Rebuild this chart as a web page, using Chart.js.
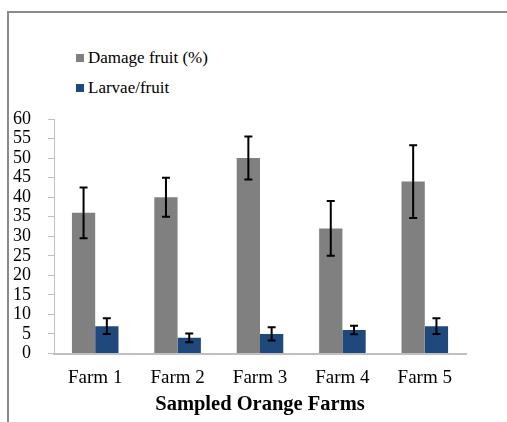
<!DOCTYPE html>
<html>
<head>
<meta charset="utf-8">
<script src="https://cdn.jsdelivr.net/npm/chart.js@4.4.0/dist/chart.umd.min.js"></script>
<style>
    html, body { margin: 0; padding: 0; background: #fff; }
    #wrap { position: relative; width: 507px; height: 422px; overflow: hidden; }
    #frame {
        position: absolute; left: 7px; top: 11px; width: 600px; height: 500px;
        border-top: 2px solid #8a8a8a; border-left: 2px solid #8a8a8a;
    }
    #legend { position: absolute; left: 76px; top: 43px; font-family: 'Liberation Serif', serif; font-size: 17px; color: #000; }
    .item { display: flex; align-items: center; height: 30px; }
    .box { width: 8px; height: 8px; margin-right: 4px; }
    canvas { position: absolute; left: 0; top: 0; }
</style>
</head>
<body>
<div id="wrap">
    <div id="frame"></div>
    <div id="legend"></div>
    <canvas id="chart" width="507" height="422"></canvas>
</div>
<script>
// chart data
const farms = ['Farm 1', 'Farm 2', 'Farm 3', 'Farm 4', 'Farm 5']
const damage = [36, 40, 50, 32, 44]
const damageErr = [6.5, 5, 5.5, 7, 9.3]
const larvae = [7, 4, 5, 6, 7]
const larvaeErr = [2, 1.1, 1.7, 1.1, 2]
const yTicks = [0, 5, 10, 15, 20, 25, 30, 35, 40, 45, 50, 55, 60]

const grey = '#808080'
const blue = '#1F497D'
const serif = "'Liberation Serif', 'Times New Roman', serif"

const datasets = [
    { label: 'Damage fruit (%)', data: damage, err: damageErr, backgroundColor: grey },
    { label: 'Larvae/fruit', data: larvae, err: larvaeErr, backgroundColor: blue }
]

// legend stacked top-left like the original
const legend = document.getElementById('legend')
datasets.forEach(ds => {
    const item = document.createElement('div')
    item.className = 'item'
    item.innerHTML = `<span class="box" style="background:${ds.backgroundColor}"></span><span>${ds.label}</span>`
    legend.appendChild(item)
})

// draws the standard deviation whiskers on each bar
const errorBars = {
    id: 'errorBars',
    afterDatasetsDraw(chart) {
        const ctx = chart.ctx
        const y = chart.scales.y
        ctx.save()
        ctx.strokeStyle = '#000'
        ctx.lineWidth = 2
        chart.data.datasets.forEach((ds, i) => {
            chart.getDatasetMeta(i).data.forEach((bar, j) => {
                const top = y.getPixelForValue(ds.data[j] + ds.err[j])
                const bottom = y.getPixelForValue(ds.data[j] - ds.err[j])
                ctx.beginPath()
                ctx.moveTo(bar.x, top)
                ctx.lineTo(bar.x, bottom)
                ctx.moveTo(bar.x - 4, top)
                ctx.lineTo(bar.x + 4, top)
                ctx.moveTo(bar.x - 4, bottom)
                ctx.lineTo(bar.x + 4, bottom)
                ctx.stroke()
            })
        })
        ctx.restore()
    }
}

new Chart(document.getElementById('chart'), {
    type: 'bar',
    data: { labels: farms, datasets: datasets },
    options: {
        responsive: false,
        animation: false,
        categoryPercentage: 0.565,
        barPercentage: 1,
        layout: { padding: { left: -4, right: 41, top: 119, bottom: 7 } },
        plugins: {
            legend: { display: false },
            tooltip: { enabled: false }
        },
        scales: {
            x: {
                grid: { display: false },
                border: { color: '#bfbfbf', width: 2 },
                ticks: { color: '#000', font: { family: serif, size: 19, lineHeight: 1 }, padding: 7 },
                title: {
                    display: true,
                    text: 'Sampled Orange Farms',
                    color: '#000',
                    font: { family: serif, size: 20.5, weight: 'bold', lineHeight: 1 },
                    padding: { top: 0, bottom: 0 }
                }
            },
            y: {
                min: 0,
                max: 60,
                afterBuildTicks: axis => { axis.ticks = yTicks.map(v => ({ value: v })) },
                grid: { drawOnChartArea: false, drawTicks: true, tickLength: 6, color: '#bfbfbf', lineWidth: 1 },
                border: { color: '#bfbfbf', width: 1 },
                ticks: { color: '#000', font: { family: serif, size: 18, lineHeight: 1 }, padding: 17, autoSkip: false }
            }
        }
    },
    plugins: [errorBars]
})
</script>
</body>
</html>
